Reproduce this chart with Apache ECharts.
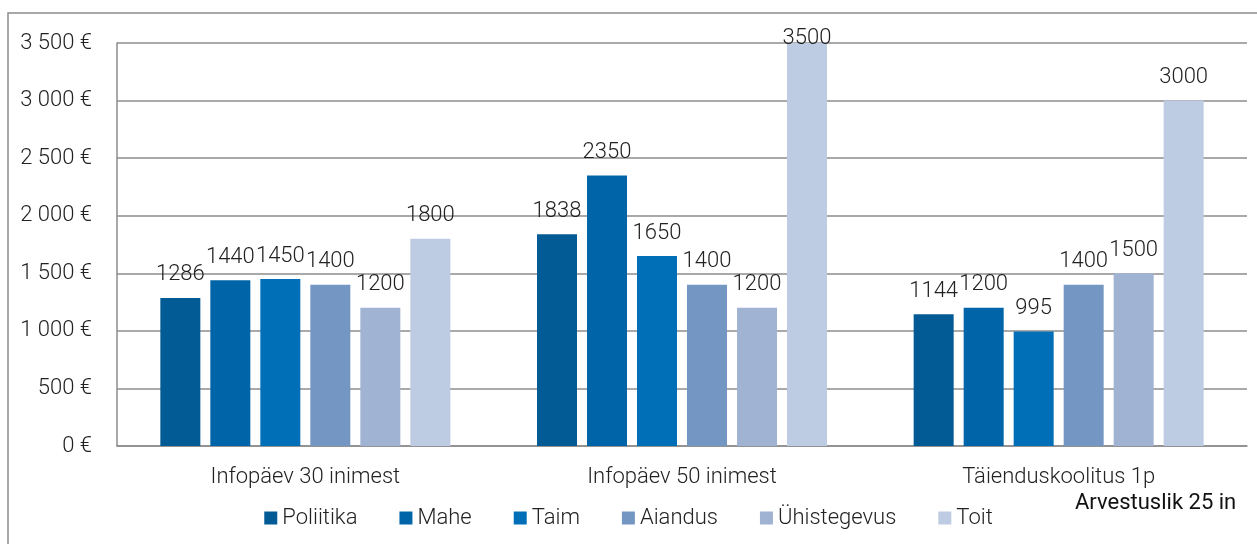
<!DOCTYPE html>
<html>
<head>
<meta charset="utf-8">
<script src="https://cdn.jsdelivr.net/npm/echarts@6/dist/echarts.min.js"></script>
<style>
  html, body { margin: 0; padding: 0; background: #fff; }
  #container { width: 1257px; height: 544px; }
</style>
</head>
<body>
<div id="container"></div>
<script>
// categories and series values
const categories = ["Infopäev 30 inimest", "Infopäev 50 inimest", "Täienduskoolitus 1p"];
const seriesNames = ["Poliitika", "Mahe", "Taim", "Aiandus", "Ühistegevus", "Toit"];
const poliitika = [1286, 1838, 1144];
const mahe = [1440, 2350, 1200];
const taim = [1450, 1650, 995];
const aiandus = [1400, 1400, 1400];
const uhistegevus = [1200, 1200, 1500];
const toit = [1800, 3500, 3000];
const yTicks = [0, 500, 1000, 1500, 2000, 2500, 3000, 3500];

const colors = ["#025b94", "#0064a8", "#006fb7", "#7496c3", "#a0b3d3", "#becce3"];
const values = [poliitika, mahe, taim, aiandus, uhistegevus, toit];
const FONT = "Roboto";
const yMax = yTicks[yTicks.length - 1];

const dom = document.getElementById("container");
const myChart = echarts.init(dom, null, { renderer: "canvas" });

const option = {
  animation: false,
  color: colors,
  textStyle: { fontFamily: FONT },
  grid: { left: 117, right: 10, top: 43, bottom: 98 },
  legend: {
    data: seriesNames,
    top: 502,
    left: "center",
    icon: "rect",
    itemWidth: 13,
    itemHeight: 13,
    itemGap: 42,
    textStyle: { fontFamily: FONT, fontSize: 22, fontWeight: 300, color: "#222" },
  },
  xAxis: {
    type: "category",
    data: categories,
    axisTick: { show: false },
    axisLine: { lineStyle: { color: "#8c8c8c", width: 1.5 } },
    axisLabel: { margin: 20, fontSize: 22, fontWeight: 300, color: "#222", fontFamily: FONT },
  },
  yAxis: {
    type: "value",
    min: yTicks[0],
    max: yMax,
    interval: 500,
    axisLine: { show: true, lineStyle: { color: "#8c8c8c", width: 1.5 } },
    axisTick: { show: false },
    splitLine: { lineStyle: { color: "#8c8c8c", width: 1.5 } },
    axisLabel: {
      margin: 25,
      fontSize: 22,
      fontWeight: 300,
      color: "#222",
      fontFamily: FONT,
      formatter: (v) => String(v).replace(/\B(?=(\d{3})+(?!\d))/g, " ") + " €",
    },
  },
  graphic: [
    {
      type: "rect",
      silent: true,
      shape: { x: 8, y: 13, width: 1400, height: 700 },
      style: { fill: null, stroke: "#8c8c8c", lineWidth: 1.5 },
    },
    {
      type: "text",
      left: 1075,
      top: 492,
      style: { text: "Arvestuslik 25 in", fontFamily: FONT, fontSize: 22, fontWeight: 400, fill: "#111" },
    },
  ],
  series: seriesNames.map((name, i) => ({
    name: name,
    type: "bar",
    // labels of bars that reach the top are kept inside the plot area
    data: values[i].map((v) => (v >= yMax ? { value: v, label: { offset: [0, 18] } } : v)),
    barWidth: 40,
    barGap: "25%",
    label: {
      show: true,
      position: "top",
      distance: 12,
      fontFamily: FONT,
      fontSize: 22,
      fontWeight: 300,
      color: "#222",
    },
  })),
};

myChart.setOption(option);
window.addEventListener("resize", myChart.resize);
</script>
</body>
</html>
